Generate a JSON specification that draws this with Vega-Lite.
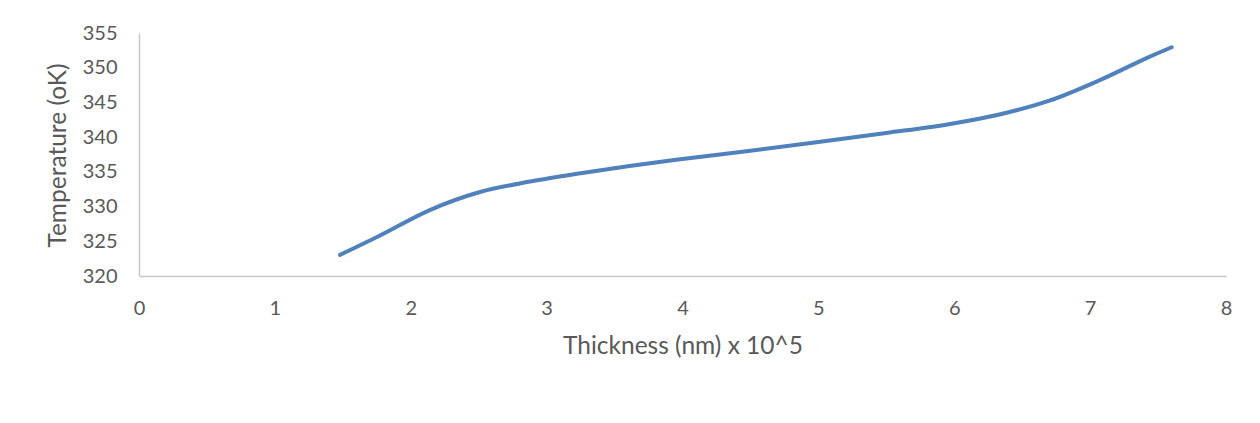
{
  "$schema": "https://vega.github.io/schema/vega-lite/v6.json",
  "autosize": {"type": "none"},
  "width": 1087,
  "height": 243,
  "padding": {"left": 139, "top": 33, "right": 34, "bottom": 147},
  "background": "#ffffff",
  "data": {
    "values": [
      {"thickness": 1.48, "temperature": 323.05},
      {"thickness": 1.77, "temperature": 325.8},
      {"thickness": 2.14, "temperature": 329.5},
      {"thickness": 2.51, "temperature": 332.1},
      {"thickness": 2.88, "temperature": 333.6},
      {"thickness": 3.25, "temperature": 334.8},
      {"thickness": 3.61, "temperature": 335.85},
      {"thickness": 4.0, "temperature": 336.85},
      {"thickness": 4.5, "temperature": 338.05},
      {"thickness": 5.0, "temperature": 339.3},
      {"thickness": 5.5, "temperature": 340.6},
      {"thickness": 5.97, "temperature": 341.9},
      {"thickness": 6.34, "temperature": 343.3},
      {"thickness": 6.7, "temperature": 345.25},
      {"thickness": 7.07, "temperature": 348.2},
      {"thickness": 7.44, "temperature": 351.6},
      {"thickness": 7.6, "temperature": 352.95}
    ]
  },
  "mark": {
    "type": "line",
    "color": "#4f81bd",
    "strokeWidth": 4,
    "interpolate": "monotone",
    "strokeCap": "round"
  },
  "encoding": {
    "x": {
      "field": "thickness",
      "type": "quantitative",
      "scale": {"domain": [0, 8], "nice": false, "zero": false},
      "axis": {
        "title": "Thickness (nm) x 10^5",
        "values": [0, 1, 2, 3, 4, 5, 6, 7, 8],
        "grid": false,
        "ticks": false,
        "labelFlush": false,
        "domainColor": "#c8c8c8",
        "domainWidth": 1.5,
        "labelFont": "Lato",
        "labelFontSize": 20,
        "labelColor": "#595959",
        "labelPadding": 22,
        "labelBaseline": "top",
        "titleFont": "Lato",
        "titleFontSize": 24.5,
        "titleFontWeight": "normal",
        "titleColor": "#595959",
        "titleBaseline": "alphabetic",
        "titleY": 77
      }
    },
    "y": {
      "field": "temperature",
      "type": "quantitative",
      "scale": {"domain": [320, 355], "nice": false, "zero": false},
      "axis": {
        "title": "Temperature (oK)",
        "values": [320, 325, 330, 335, 340, 345, 350, 355],
        "grid": false,
        "ticks": false,
        "labelFlush": false,
        "domainColor": "#c8c8c8",
        "domainWidth": 1.5,
        "labelFont": "Lato",
        "labelFontSize": 20,
        "labelColor": "#595959",
        "labelPadding": 22,
        "titleFont": "Lato",
        "titleFontSize": 24.5,
        "titleFontWeight": "normal",
        "titleColor": "#595959",
        "titleAngle": 270,
        "titleAlign": "center",
        "titleBaseline": "middle",
        "titleX": -81,
        "titleY": 122
      }
    }
  },
  "config": {
    "view": {"stroke": null}
  }
}
